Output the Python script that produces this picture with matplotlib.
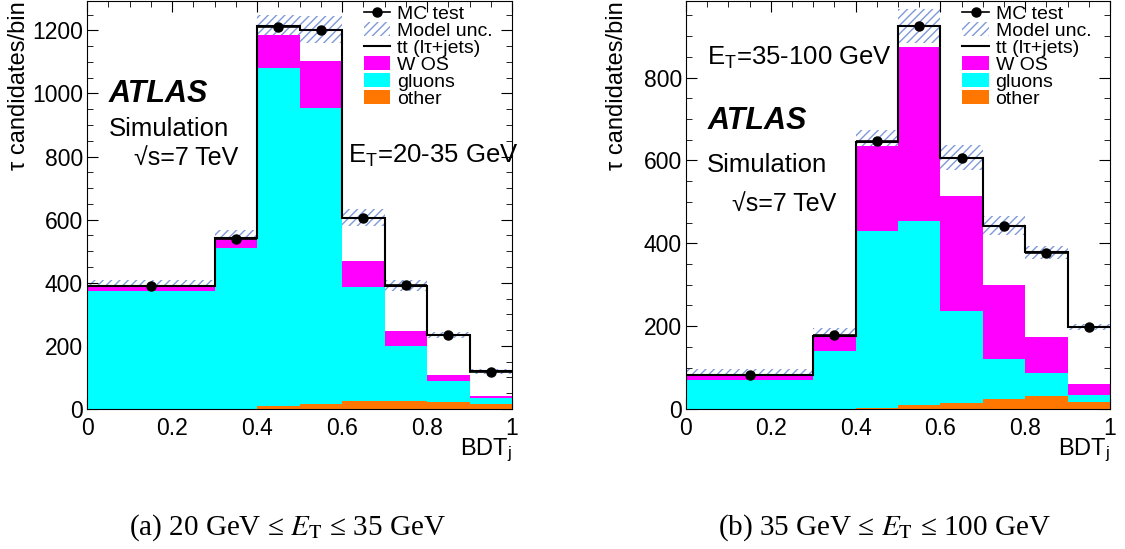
import numpy as np
import matplotlib
matplotlib.use("Agg")
import matplotlib.pyplot as plt
from matplotlib.lines import Line2D
from matplotlib.patches import Patch
from matplotlib.ticker import MultipleLocator

plt.rcParams['font.family'] = ['Liberation Sans', 'DejaVu Sans']
plt.rcParams['mathtext.fontset'] = 'custom'
plt.rcParams['mathtext.rm'] = 'Liberation Sans'
plt.rcParams['mathtext.it'] = 'Liberation Sans:italic'
plt.rcParams['hatch.linewidth'] = 1.0

edges = [0, 0.3, 0.4, 0.5, 0.6, 0.7, 0.8, 0.9, 1.0]

# panel (a): 20-35 GeV
a_total = [390, 541, 1213, 1202, 606, 391, 235, 119]
a_mc = [390, 540, 1212, 1202, 605, 392, 233, 118]
a_unc = [18, 25, 35, 42, 27, 18, 10, 8]
a_other = [1, 1, 8, 15, 24, 25, 21, 16]
a_gluons = [374, 508, 1073, 939, 364, 176, 69, 19]
a_wos = [13, 30, 105, 148, 81, 47, 19, 5]

# panel (b): 35-100 GeV
b_total = [83, 177, 644, 925, 607, 442, 378, 198]
b_mc = [83, 178, 646, 924, 606, 442, 377, 198]
b_unc = [14, 18, 30, 41, 30, 23, 15, 8]
b_other = [1, 1, 2, 9, 14, 24, 31, 18]
b_gluons = [70, 138, 427, 446, 222, 97, 56, 15]
b_wos = [10, 36, 207, 420, 279, 179, 86, 28]

hatch_col = '#7f9ad8'
c_wos = '#ff00ff'
c_glu = '#00ffff'
c_oth = '#ff7700'


def draw(ax, total, mc, unc, other, gluons, wos, ymax, major, minor):
    e = np.array(edges)
    total = np.array(total)
    unc = np.array(unc)
    ax.bar(e[:-1], 2 * unc, width=np.diff(e), bottom=total - unc, align='edge',
           fill=False, hatch='////', edgecolor=hatch_col, linewidth=0, zorder=1)
    b1 = np.array(other)
    b2 = b1 + np.array(gluons)
    b3 = b2 + np.array(wos)
    ax.stairs(b3, e, baseline=b2, fill=True, color=c_wos, zorder=2)
    ax.stairs(b2, e, baseline=b1, fill=True, color=c_glu, zorder=2)
    ax.stairs(b1, e, baseline=0, fill=True, color=c_oth, zorder=2)
    ax.stairs(total, e, baseline=None, color='black', lw=1.5, zorder=3)
    cen = (e[:-1] + e[1:]) / 2
    ax.errorbar(cen, mc, xerr=np.diff(e) / 2, fmt='o', color='black', ms=6.5,
                elinewidth=1.2, zorder=4)
    ax.set_xlim(0, 1)
    ax.set_ylim(0, ymax)
    ax.xaxis.set_major_locator(MultipleLocator(0.2))
    ax.xaxis.set_minor_locator(MultipleLocator(0.05))
    ax.yaxis.set_major_locator(MultipleLocator(major))
    ax.yaxis.set_minor_locator(MultipleLocator(minor))
    ax.set_xticks([0, 0.2, 0.4, 0.6, 0.8, 1.0], ['0', '0.2', '0.4', '0.6', '0.8', '1'])
    ax.tick_params(which='both', direction='in', top=True, right=True, labelsize=16.5)
    ax.tick_params(which='major', length=8)
    ax.tick_params(which='minor', length=4)
    ax.tick_params(axis='x', pad=6)
    ax.tick_params(axis='y', pad=3)
    ax.set_ylabel('τ candidates/bin', fontsize=17, loc='top')
    ax.set_xlabel('BDT$_{\\rm j}$', fontsize=17, loc='right')
    ax.xaxis.set_label_coords(1.0, -0.068)
    handles = [
        Line2D([], [], color='black', marker='o', ms=6.5, lw=1.2),
        Patch(facecolor='none', edgecolor=hatch_col, hatch='////', linewidth=0),
        Line2D([], [], color='black', lw=1.5),
        Patch(facecolor=c_wos),
        Patch(facecolor=c_glu),
        Patch(facecolor=c_oth),
    ]
    labels = ['MC test', 'Model unc.', 'tt (lτ+jets)', 'W OS', 'gluons', 'other']
    ax.legend(handles, labels, loc='upper left', frameon=False, fontsize=14,
              labelspacing=-0.03, handlelength=1.35, handletextpad=0.35,
              borderaxespad=0.0, borderpad=0.0, bbox_to_anchor=(0.652, 0.99))


fig = plt.figure(figsize=(11.25, 5.49), dpi=100)
ax1 = fig.add_axes([87 / 1125, 1 - 409 / 549, 425 / 1125, 408 / 549])
ax2 = fig.add_axes([686 / 1125, 1 - 409 / 549, 424 / 1125, 408 / 549])

draw(ax1, a_total, a_mc, a_unc, a_other, a_gluons, a_wos, 1293, 200, 50)
draw(ax2, b_total, b_mc, b_unc, b_other, b_gluons, b_wos, 985, 200, 50)
ax1.yaxis.set_label_coords(-0.134, 1.0)
ax2.yaxis.set_label_coords(-0.137, 1.0)

ax1.text(0.052, 0.773, 'ATLAS', transform=ax1.transAxes, fontsize=22,
         fontweight='bold', fontstyle='italic', va='center')
ax1.text(0.052, 0.687, 'Simulation', transform=ax1.transAxes, fontsize=18.5, va='center')
ax1.text(0.11, 0.616, '√s=7 TeV', transform=ax1.transAxes, fontsize=18, va='center')
ax1.text(0.614, 0.62, 'E$_{\\rm T}$=20-35 GeV', transform=ax1.transAxes, fontsize=18.5,
         va='center')

ax2.text(0.05, 0.861, 'E$_{\\rm T}$=35-100 GeV', transform=ax2.transAxes, fontsize=18.5,
         va='center')
ax2.text(0.05, 0.707, 'ATLAS', transform=ax2.transAxes, fontsize=22,
         fontweight='bold', fontstyle='italic', va='center')
ax2.text(0.05, 0.599, 'Simulation', transform=ax2.transAxes, fontsize=18.5, va='center')
ax2.text(0.109, 0.503, '√s=7 TeV', transform=ax2.transAxes, fontsize=18, va='center')

fig.text(287 / 1125, 1 - 528 / 549, '(a) 20 GeV ≤ $E_{\\rm T}$ ≤ 35 GeV',
         ha='center', va='center', fontsize=21, family='Liberation Serif',
         math_fontfamily='stix')
fig.text(884 / 1125, 1 - 528 / 549, '(b) 35 GeV ≤ $E_{\\rm T}$ ≤ 100 GeV',
         ha='center', va='center', fontsize=21, family='Liberation Serif',
         math_fontfamily='stix')

fig.savefig('out.png', dpi=100)
